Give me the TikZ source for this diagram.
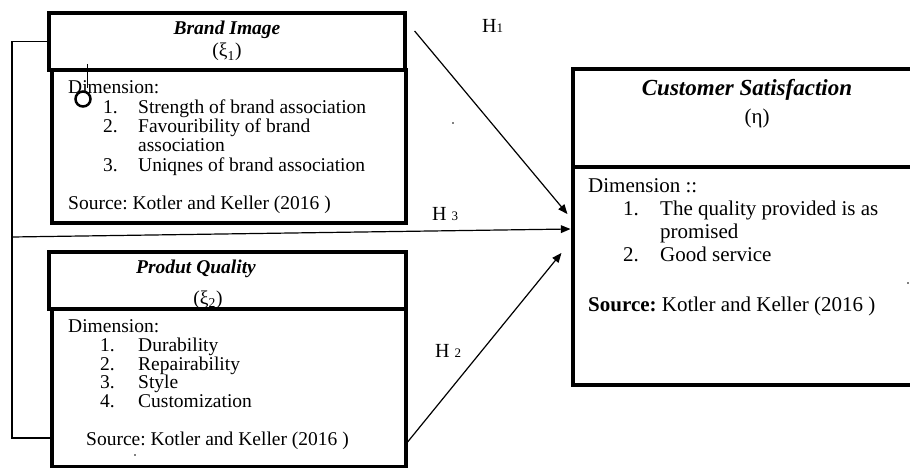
\documentclass[tikz,border=0pt]{standalone}
\usepackage{fontspec}
\setmainfont{Liberation Serif}
\usepackage{tikz}
\usetikzlibrary{arrows,calc}
\frenchspacing

% numbered line inside a box: indent, width of number, number, text
\newcommand{\numline}[4]{\hspace*{#1}\makebox[#2][l]{#3}#4}
\newcommand{\hyp}[2]{H#1{\fontsize{13}{13}\selectfont #2}}

\tikzset{
  box/.style={draw=black, line width=3.2pt, inner sep=0pt},
  boxtext/.style={align=left, anchor=north west, inner sep=0pt,
    font=\fontsize{19.5}{19.3}\selectfont},
  title/.style={anchor=base, inner sep=0pt,
    font=\fontsize{19.5}{19.5}\selectfont\bfseries\itshape},
  sym/.style={anchor=base, inner sep=0pt, font=\fontsize{19.5}{19.5}\selectfont},
  hlabel/.style={anchor=base west, inner sep=0pt, font=\fontsize{20}{20}\selectfont},
  link/.style={line width=1.2pt}
}

\begin{document}
\begin{tikzpicture}[x=1pt,y=-1pt]
\useasboundingbox (0,0) rectangle (910,468);

    % brand image
    \node[box, minimum width=354pt, minimum height=153pt] (bi-body) at (229,146.5) {};
    \node[box, minimum width=356pt, minimum height=57pt] (bi-head) at (227,41.5) {};
    \node[title] (bi-title) at (227,34.5) {Brand Image};
    \node[sym] (bi-sym) at (227,57) {(ξ\textsubscript{1})};
    \node[boxtext] (bi-text) at (68,80.7) {Dimension:\\
      \numline{35pt}{35pt}{1.}{Strength of brand association}\\
      \numline{35pt}{35pt}{2.}{Favouribility of brand}\\
      \hspace*{70pt}association\\
      \numline{35pt}{35pt}{3.}{Uniqnes of brand association}\\[19.3pt]
      Source: Kotler and Keller (2016 )};
    \draw[line width=1pt] (87,64) -- (87,88);
    \draw[line width=2.5pt] (83,99) circle[radius=7.5pt];

    % product quality
    \node[box, minimum width=354pt, minimum height=158pt] (pq-body) at (229,388) {};
    \node[box, minimum width=357pt, minimum height=57pt] (pq-head) at (227.5,280.5) {};
    \node[title] (pq-title) at (196,273) {Produt Quality};
    \node[sym] (pq-sym) at (208,304) {(ξ\textsubscript{2})};
    \node[boxtext, font=\fontsize{19.5}{18.7}\selectfont] (pq-text) at (68,319.7) {Dimension:\\
      \numline{32pt}{38pt}{1.}{Durability}\\
      \numline{32pt}{38pt}{2.}{Repairability}\\
      \numline{32pt}{38pt}{3.}{Style}\\
      \numline{32pt}{38pt}{4.}{Customization}\\[18.7pt]
      \hspace*{18pt}Source: Kotler and Keller (2016 )};
    \fill (135,455) circle[radius=0.9pt];

    % customer satisfaction
    \node[box, minimum width=360pt, minimum height=98pt] (cs-head) at (753,118) {};
    \node[box, minimum width=360pt, minimum height=218pt] (cs-body) at (753,276) {};
    \node[title, font=\fontsize{23}{23}\selectfont\bfseries\itshape] (cs-title) at (747,96) {Customer Satisfaction};
    \node[sym, font=\fontsize{21}{21}\selectfont] (cs-sym) at (757,124) {(η)};
    \node[boxtext, font=\fontsize{21}{22.8}\selectfont] (cs-text) at (588,178.7) {Dimension ::\\
      \numline{35pt}{37pt}{1.}{The quality provided is as}\\
      \hspace*{72pt}promised\\
      \numline{35pt}{37pt}{2.}{Good service}\\[27pt]
      \textbf{Source:} Kotler and Keller (2016 )};
    \fill (453,123) circle[radius=0.9pt];
    \fill (908,283) circle[radius=0.9pt];

\begin{scope}[>=triangle 45]
    % bracket on the left
    \coordinate (brk) at (12,237);
    \draw[link] (bi-head.west) -| (brk) |- ($(pq-body.west)+(0,50)$);

    \draw[link,->] ($(bi-head.east)+(8,-10.5)$) -- ($(cs-body.west)+(-4,-62)$);
    \draw[link,->] (brk) -- ($(cs-body.west)+(-1,-47)$);
    \draw[link,->] ($(pq-body.east)+(0,54)$) -- ($(cs-body.west)+(-10,-23)$);

    \node[hlabel] (h1-lbl) at (482,33) {\hyp{}{1}};
    \node[hlabel] (h3-lbl) at (432,220) {\hyp{\ }{3}};
    \node[hlabel] (h2-lbl) at (435,357) {\hyp{\ }{2}};
\end{scope}
\end{tikzpicture}
\end{document}
